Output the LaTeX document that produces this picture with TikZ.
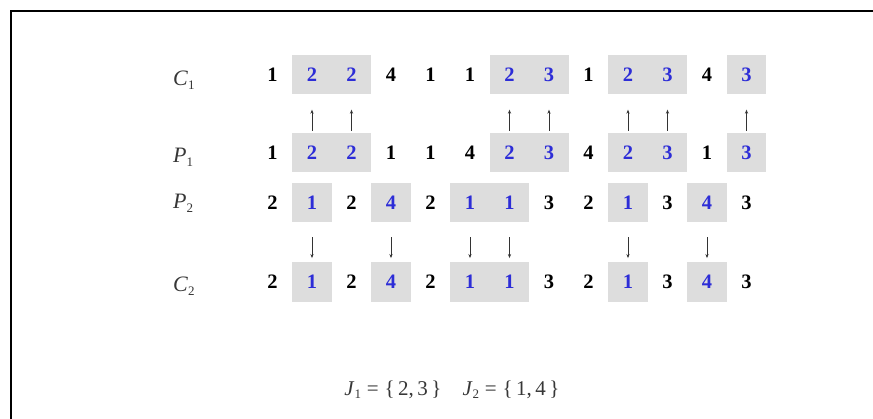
\documentclass[tikz,border=0pt]{standalone}
\usepackage{fontspec}
\setmainfont{Liberation Serif}
\usetikzlibrary{arrows.meta}
\definecolor{cellgray}{RGB}{221,221,221}
\definecolor{digblue}{RGB}{45,45,215}
\definecolor{labgray}{RGB}{55,55,55}
\newcommand{\lbl}[2]{\textit{#1}\raisebox{-0.35ex}{\fontsize{13}{13}\selectfont #2}}
\begin{document}
\begin{tikzpicture}[x=1pt,y=-1pt,
  cell/.style={minimum width=39.5pt,minimum height=39.5pt,inner sep=0pt,
    font=\fontsize{20.5}{22}\selectfont\bfseries},
  hl/.style={cell,fill=cellgray,text=digblue},
  rowlabel/.style={anchor=base west,inner sep=0pt,text=labgray,
    font=\fontsize{22}{24}\selectfont},
  arr/.style={-{Stealth[length=4pt,width=3.2pt]},line width=0.7pt,black!80}]
\useasboundingbox (0,0) rectangle (873,419);
\fill[white] (0,0) rectangle (873,419);
\draw[line width=1.8pt] (885,11) -- (11,11) -- (11,435);

% row labels
\node[rowlabel] (lc1) at (173,86)  {\lbl{C}{1}};
\node[rowlabel] (lp1) at (173,163) {\lbl{P}{1}};
\node[rowlabel] (lp2) at (173,209) {\lbl{P}{2}};
\node[rowlabel] (lc2) at (173,292) {\lbl{C}{2}};

% C1
\foreach \v/\s [count=\i] in {1/cell,2/hl,2/hl,4/cell,1/cell,1/cell,2/hl,3/hl,1/cell,2/hl,3/hl,4/cell,3/hl}
  \node[\s] (c1-\i) at ({272.5+(\i-1)*39.5},74.75) {\v};
% P1
\foreach \v/\s [count=\i] in {1/cell,2/hl,2/hl,1/cell,1/cell,4/cell,2/hl,3/hl,4/cell,2/hl,3/hl,1/cell,3/hl}
  \node[\s] (p1-\i) at ({272.5+(\i-1)*39.5},152.5) {\v};
% P2
\foreach \v/\s [count=\i] in {2/cell,1/hl,2/cell,4/hl,2/cell,1/hl,1/hl,3/cell,2/cell,1/hl,3/cell,4/hl,3/cell}
  \node[\s] (p2-\i) at ({272.5+(\i-1)*39.5},202.5) {\v};
% C2
\foreach \v/\s [count=\i] in {2/cell,1/hl,2/cell,4/hl,2/cell,1/hl,1/hl,3/cell,2/cell,1/hl,3/cell,4/hl,3/cell}
  \node[\s] (c2-\i) at ({272.5+(\i-1)*39.5},282) {\v};

% arrows
\foreach \i in {2,3,7,8,10,11,13}
  \draw[arr,shorten <=2pt,shorten >=15pt] (p1-\i.north) -- (c1-\i.south);
\foreach \i in {2,4,6,7,10,12}
  \draw[arr,shorten <=15pt,shorten >=4pt] (p2-\i.south) -- (c2-\i.north);

% sets
\node[inner sep=0pt,font=\fontsize{21}{23}\selectfont,text=labgray] (sets) at (452,390)
  {\lbl{J}{1}\;=\;\{\,2,\,3\,\}\quad\lbl{J}{2}\;=\;\{\,1,\,4\,\}};
\end{tikzpicture}
\end{document}
